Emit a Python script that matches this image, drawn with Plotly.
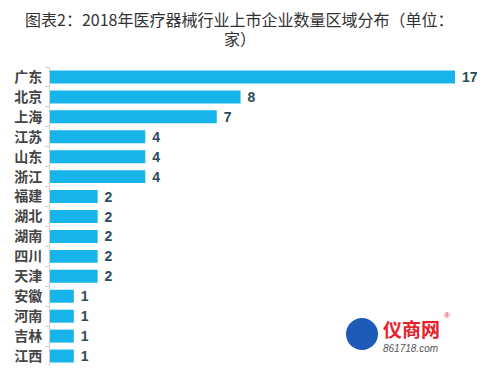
import plotly.graph_objects as go

provinces = ["广东", "北京", "上海", "江苏", "山东", "浙江", "福建", "湖北", "湖南", "四川", "天津", "安徽", "河南", "吉林", "江西"]
counts = [17, 8, 7, 4, 4, 4, 2, 2, 2, 2, 2, 1, 1, 1, 1]
title_line1 = "图表2：2018年医疗器械行业上市企业数量区域分布（单位："
title_line2 = "家）"

CJK = "Noto Sans CJK SC"
O = 8  # page body offset
W, H = 485, 379 - O
# plot area in window pixels: x 50..455, y 67..366
L, R, T, B = 50 - O, W - (455 - O), 67 - O, H - (366 - O)
PW, PH = W - L - R, H - T - B

def px(x):
    return (x - O - L) / PW

def py(y):
    return (H - B - (y - O)) / PH

fig = go.Figure(go.Bar(
    x=counts, y=provinces, orientation="h",
    marker=dict(color="#16B4EA", line=dict(width=0)),
    text=["\u00a0" + str(v) for v in counts], textposition="outside", constraintext="none",
    textfont=dict(family="Arial", size=14, color="#2A4B5C", weight="bold"),
    cliponaxis=False,
))

fig.update_layout(
    width=W, height=H,
    margin=dict(l=L, r=R, t=T, b=B, autoexpand=False),
    paper_bgcolor="white", plot_bgcolor="white",
    bargap=0.35,
    showlegend=False,
    xaxis=dict(range=[0, 17], visible=False, automargin=False),
    yaxis=dict(autorange="reversed", showline=True, linecolor="#D0D0D0", linewidth=1,
               ticks="outside", ticklen=4, tickcolor="#D0D0D0", tickson="boundaries",
               showgrid=False, automargin=False,
               tickfont=dict(family=CJK, size=14, color="#454545", weight="bold"),
               ticklabelstandoff=4),
)

fig.add_annotation(xref="paper", yref="paper", x=px(239), y=py(19),
                   text=title_line1, showarrow=False, xanchor="center", yanchor="middle",
                   font=dict(family=CJK, size=16, color="#333333"))
fig.add_annotation(xref="paper", yref="paper", x=px(240), y=py(38),
                   text=title_line2, showarrow=False, xanchor="center", yanchor="middle",
                   font=dict(family=CJK, size=16, color="#333333"))

# logo watermark
fig.add_shape(type="circle", xref="paper", yref="paper",
              x0=px(346), x1=px(378), y0=py(350), y1=py(318),
              fillcolor="#1E5BB8", line=dict(width=0))
fig.add_annotation(xref="paper", yref="paper", x=px(381), y=py(328),
                   text="<b>仪商网</b>", showarrow=False, xanchor="left", yanchor="middle",
                   font=dict(family=CJK, size=19, color="#E8202A"))
fig.add_annotation(xref="paper", yref="paper", x=px(442), y=py(315),
                   text="®", showarrow=False, xanchor="left", yanchor="middle",
                   font=dict(family="Arial", size=8, color="#E8202A"))
fig.add_annotation(xref="paper", yref="paper", x=px(381), y=py(348),
                   text="<i>861718.com</i>", showarrow=False, xanchor="left", yanchor="middle",
                   font=dict(family="Arial", size=10, color="#555555"))

fig.write_html("out.html")
